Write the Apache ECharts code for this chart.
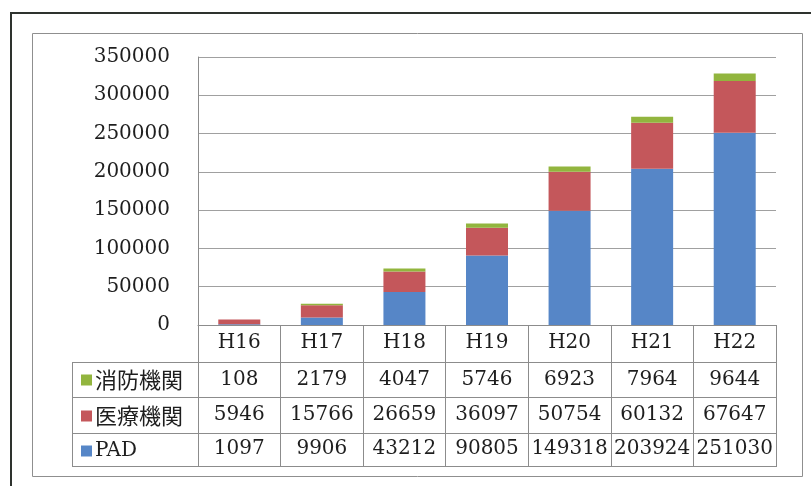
<!DOCTYPE html>
<html>
<head>
<meta charset="utf-8">
<script src="https://cdn.jsdelivr.net/npm/echarts@6/dist/echarts.min.js"></script>
<style>
  html, body { margin: 0; padding: 0; background: #ffffff; }
  #chart { width: 811px; height: 486px; }
</style>
</head>
<body>
<div id="chart"></div>
<script>
// Fiscal years (Heisei era)
const categories = ['H16', 'H17', 'H18', 'H19', 'H20', 'H21', 'H22'];

// Series names
const nameFire = '消防機関';
const nameMedical = '医療機関';
const namePad = 'PAD';

// Values per year
const fireValues = [108, 2179, 4047, 5746, 6923, 7964, 9644];
const medicalValues = [5946, 15766, 26659, 36097, 50754, 60132, 67647];
const padValues = [1097, 9906, 43212, 90805, 149318, 203924, 251030];

// Value axis ticks
const yMin = 0;
const yMax = 350000;
const yStep = 50000;

const colorPad = '#5686c7';
const colorMedical = '#c4575b';
const colorFire = '#92b53e';

const serif = '"DejaVu Serif", "Liberation Serif", serif';
const cjk = '"Noto Sans CJK JP", sans-serif';
const lineGray = '#8c8c8c';
const textColor = '#1e1e1e';
const numSize = 20;

// Layout of the plot and the data table below it
const plotLeft = 198, plotRight = 776, plotTop = 57, plotBottom = 325;
const tableLeft = 72;
const rowLines = [362, 397, 433, 466];

const chart = echarts.init(document.getElementById('chart'), null, { renderer: 'canvas' });

// One extra bottom axis per table row; its labels are the row's values
function rowAxis(values, offset) {
  return {
    type: 'category',
    data: categories,
    position: 'bottom',
    offset: offset,
    axisLine: { show: false },
    axisTick: { show: false },
    axisLabel: {
      interval: 0,
      margin: 8,
      fontFamily: serif,
      fontSize: numSize,
      color: textColor,
      formatter: (v, i) => String(values[i])
    }
  };
}

const tableGraphics = [];
rowLines.forEach((y) => {
  tableGraphics.push({
    type: 'line',
    shape: { x1: tableLeft, y1: y + 0.5, x2: plotRight, y2: y + 0.5 },
    style: { stroke: lineGray, lineWidth: 1 },
    silent: true
  });
});
tableGraphics.push({
  type: 'line',
  shape: { x1: tableLeft + 0.5, y1: rowLines[0], x2: tableLeft + 0.5, y2: rowLines[rowLines.length - 1] + 1 },
  style: { stroke: lineGray, lineWidth: 1 },
  silent: true
});

const option = {
  animation: false,
  backgroundColor: '#ffffff',
  grid: {
    left: plotLeft,
    right: 811 - plotRight,
    top: plotTop,
    height: plotBottom - plotTop,
    containLabel: false
  },
  legend: {
    orient: 'vertical',
    left: 81,
    top: 369,
    padding: 0,
    itemWidth: 11,
    itemHeight: 11,
    itemGap: 14,
    icon: 'rect',
    selectedMode: false,
    data: [nameFire, nameMedical, namePad],
    formatter: (name) => name === namePad ? '{s|' + name + '}' : '{c|' + name + '}',
    textStyle: {
      color: textColor,
      padding: [0, 0, 0, -2],
      rich: {
        s: { fontFamily: serif, fontSize: numSize, lineHeight: 21, color: textColor },
        c: { fontFamily: cjk, fontSize: 22, lineHeight: 21, color: textColor }
      }
    }
  },
  xAxis: [
    {
      type: 'category',
      data: categories,
      position: 'bottom',
      axisLine: { show: true, lineStyle: { color: lineGray, width: 1 } },
      axisTick: {
        show: true,
        alignWithLabel: false,
        interval: 0,
        length: rowLines[rowLines.length - 1] - plotBottom + 1,
        lineStyle: { color: lineGray, width: 1 }
      },
      axisLabel: {
        interval: 0,
        margin: 8,
        fontFamily: serif,
        fontSize: numSize,
        color: textColor
      }
    },
    rowAxis(fireValues, 37),
    rowAxis(medicalValues, 72),
    rowAxis(padValues, 106)
  ],
  yAxis: {
    type: 'value',
    min: yMin,
    max: yMax,
    interval: yStep,
    axisLine: { show: true, lineStyle: { color: lineGray, width: 1 } },
    axisTick: { show: false },
    axisLabel: {
      margin: 28,
      fontFamily: serif,
      fontSize: numSize,
      color: textColor,
      formatter: (v) => String(v)
    },
    splitLine: { show: true, lineStyle: { color: '#a0a0a0', width: 1 } }
  },
  series: [
    {
      name: namePad,
      type: 'bar',
      stack: 'total',
      barWidth: 42,
      data: padValues,
      itemStyle: { color: colorPad }
    },
    {
      name: nameMedical,
      type: 'bar',
      stack: 'total',
      barWidth: 42,
      data: medicalValues,
      itemStyle: { color: colorMedical }
    },
    {
      name: nameFire,
      type: 'bar',
      stack: 'total',
      barWidth: 42,
      data: fireValues,
      itemStyle: { color: colorFire }
    }
  ],
  graphic: [
    // outer frame, running off the right and bottom edges
    {
      type: 'rect',
      shape: { x: 11, y: 13, width: 900, height: 600 },
      style: { fill: 'none', stroke: '#2e332e', lineWidth: 2 },
      silent: true,
      z: 100
    },
    // chart area border
    {
      type: 'rect',
      shape: { x: 32.5, y: 33.5, width: 770, height: 443 },
      style: { fill: 'none', stroke: '#8f8f8f', lineWidth: 1 },
      silent: true,
      z: 100
    }
  ].concat(tableGraphics)
};

chart.setOption(option);
</script>
</body>
</html>
